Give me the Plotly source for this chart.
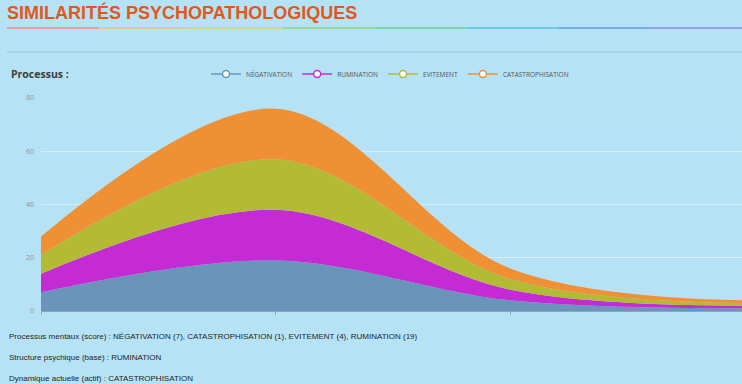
import plotly.graph_objects as go

# ---- data ----
categories = [0, 1, 2, 3]
series_names = ["NÉGATIVATION", "RUMINATION", "EVITEMENT", "CATASTROPHISATION"]
negativation = [7, 19, 4, 1]
rumination = [7, 19, 4, 1]
evitement = [7, 19, 4, 1]
catastrophisation = [7, 19, 4, 1]
y_ticks = [0, 20, 40, 60, 80]
series_colors = ["#6a94b9", "#c42bd5", "#b2bb33", "#ef9035"]

title_text = "SIMILARITÉS PSYCHOPATHOLOGIQUES"
info_lines = [
    "Processus mentaux (score) : NÉGATIVATION (7), CATASTROPHISATION (1), EVITEMENT (4), RUMINATION (19)",
    "Structure psychique (base) : RUMINATION",
    "Dynamique actuelle (actif) : CATASTROPHISATION",
]

W, H = 742, 384
L, R, T, B = 41, 0, 98, 73
PW, PH = W - L - R, H - T - B


def px_x(x):
    return (x - L) / PW


def px_y(y):
    return (H - B - y) / PH


fig = go.Figure()
all_values = [negativation, rumination, evitement, catastrophisation]
for name, vals, col in zip(series_names, all_values, series_colors):
    fig.add_trace(go.Scatter(
        x=categories, y=vals, name=name, stackgroup="one",
        mode="lines", line=dict(width=0, shape="spline", smoothing=1.0, color=col),
        fillcolor=col, showlegend=False, hoverinfo="skip",
    ))
# legend-only entries (line + open circle look)
for name, col in zip(series_names, series_colors):
    fig.add_trace(go.Scatter(
        x=[None], y=[None], name=name, mode="lines+markers",
        line=dict(color=col, width=1.5),
        marker=dict(symbol="circle", size=7, color="white", line=dict(color=col, width=1.5)),
        showlegend=True,
    ))

shapes = []
# gradient underline below the title
grad = [(232, 160, 165), (226, 200, 150), (210, 215, 140), (150, 220, 150), (120, 215, 175),
        (110, 200, 225), (120, 170, 240), (150, 160, 245)]
n = len(grad)
x0p, x1p = 7, W
for i in range(n):
    xa = x0p + (x1p - x0p) * i / n
    xb = x0p + (x1p - x0p) * (i + 1) / n
    c = grad[i]
    shapes.append(dict(type="line", xref="paper", yref="paper",
                       x0=px_x(xa), x1=px_x(xb), y0=px_y(28), y1=px_y(28),
                       line=dict(color=f"rgb{c}", width=2)))
# thin separator line
shapes.append(dict(type="line", xref="paper", yref="paper",
                   x0=px_x(7), x1=px_x(W), y0=px_y(52), y1=px_y(52),
                   line=dict(color="rgba(140,175,190,0.55)", width=1)))

annotations = [
    dict(text="<b>Processus :</b>", xref="paper", yref="paper", x=px_x(9), y=px_y(74),
         xanchor="left", yanchor="middle", showarrow=False,
         font=dict(family="Open Sans", size=10.5, color="#3d3d3d")),
]
for i, (txt, yy) in enumerate(zip(info_lines, [336, 357, 378])):
    annotations.append(dict(text=txt, xref="paper", yref="paper", x=px_x(7), y=px_y(yy),
                            xanchor="left", yanchor="middle", showarrow=False,
                            font=dict(family="Liberation Sans", size=8, color="#1e1e1e")))

fig.update_layout(
    width=W, height=H,
    margin=dict(l=L, r=R, t=T, b=B),
    paper_bgcolor="#b6e2f5",
    plot_bgcolor="rgba(0,0,0,0)",
    title=dict(text="<b>" + title_text + "</b>", xref="container", yref="container",
               x=7 / W, y=1 - 13 / H, xanchor="left", yanchor="middle",
               font=dict(family="Liberation Sans", size=18, color="#e2581c")),
    showlegend=True,
    legend=dict(orientation="h", xref="paper", yref="paper", x=px_x(390), y=px_y(74),
                xanchor="center", yanchor="middle", bgcolor="rgba(0,0,0,0)",
                traceorder="normal",
                font=dict(family="Open Sans", size=6.5, color="#555555"),
                itemwidth=30, tracegroupgap=0),
    xaxis=dict(range=[0, 3 * PW / (745 - L)], tickvals=categories, ticktext=["", "", "", ""],
               showgrid=False, zeroline=False, showline=True, linecolor="#8ea6bd", linewidth=1,
               ticks="outside", ticklen=3, tickcolor="#8ea6bd", fixedrange=True),
    yaxis=dict(range=[0, 80], tickvals=y_ticks, showgrid=True,
               gridcolor="rgba(225,240,248,0.75)", gridwidth=1, zeroline=False,
               showline=False, ticks="", ticklabelstandoff=6,
               tickfont=dict(family="Open Sans", size=7, color="#8595a8"), fixedrange=True),
    shapes=shapes,
    annotations=annotations,
    hovermode=False,
)

fig.write_html(
    "out.html",
    config={"displayModeBar": False},
    post_script="document.body.style.margin='0';document.body.style.overflow='hidden';"
                "document.body.style.background='#b6e2f5';",
)
